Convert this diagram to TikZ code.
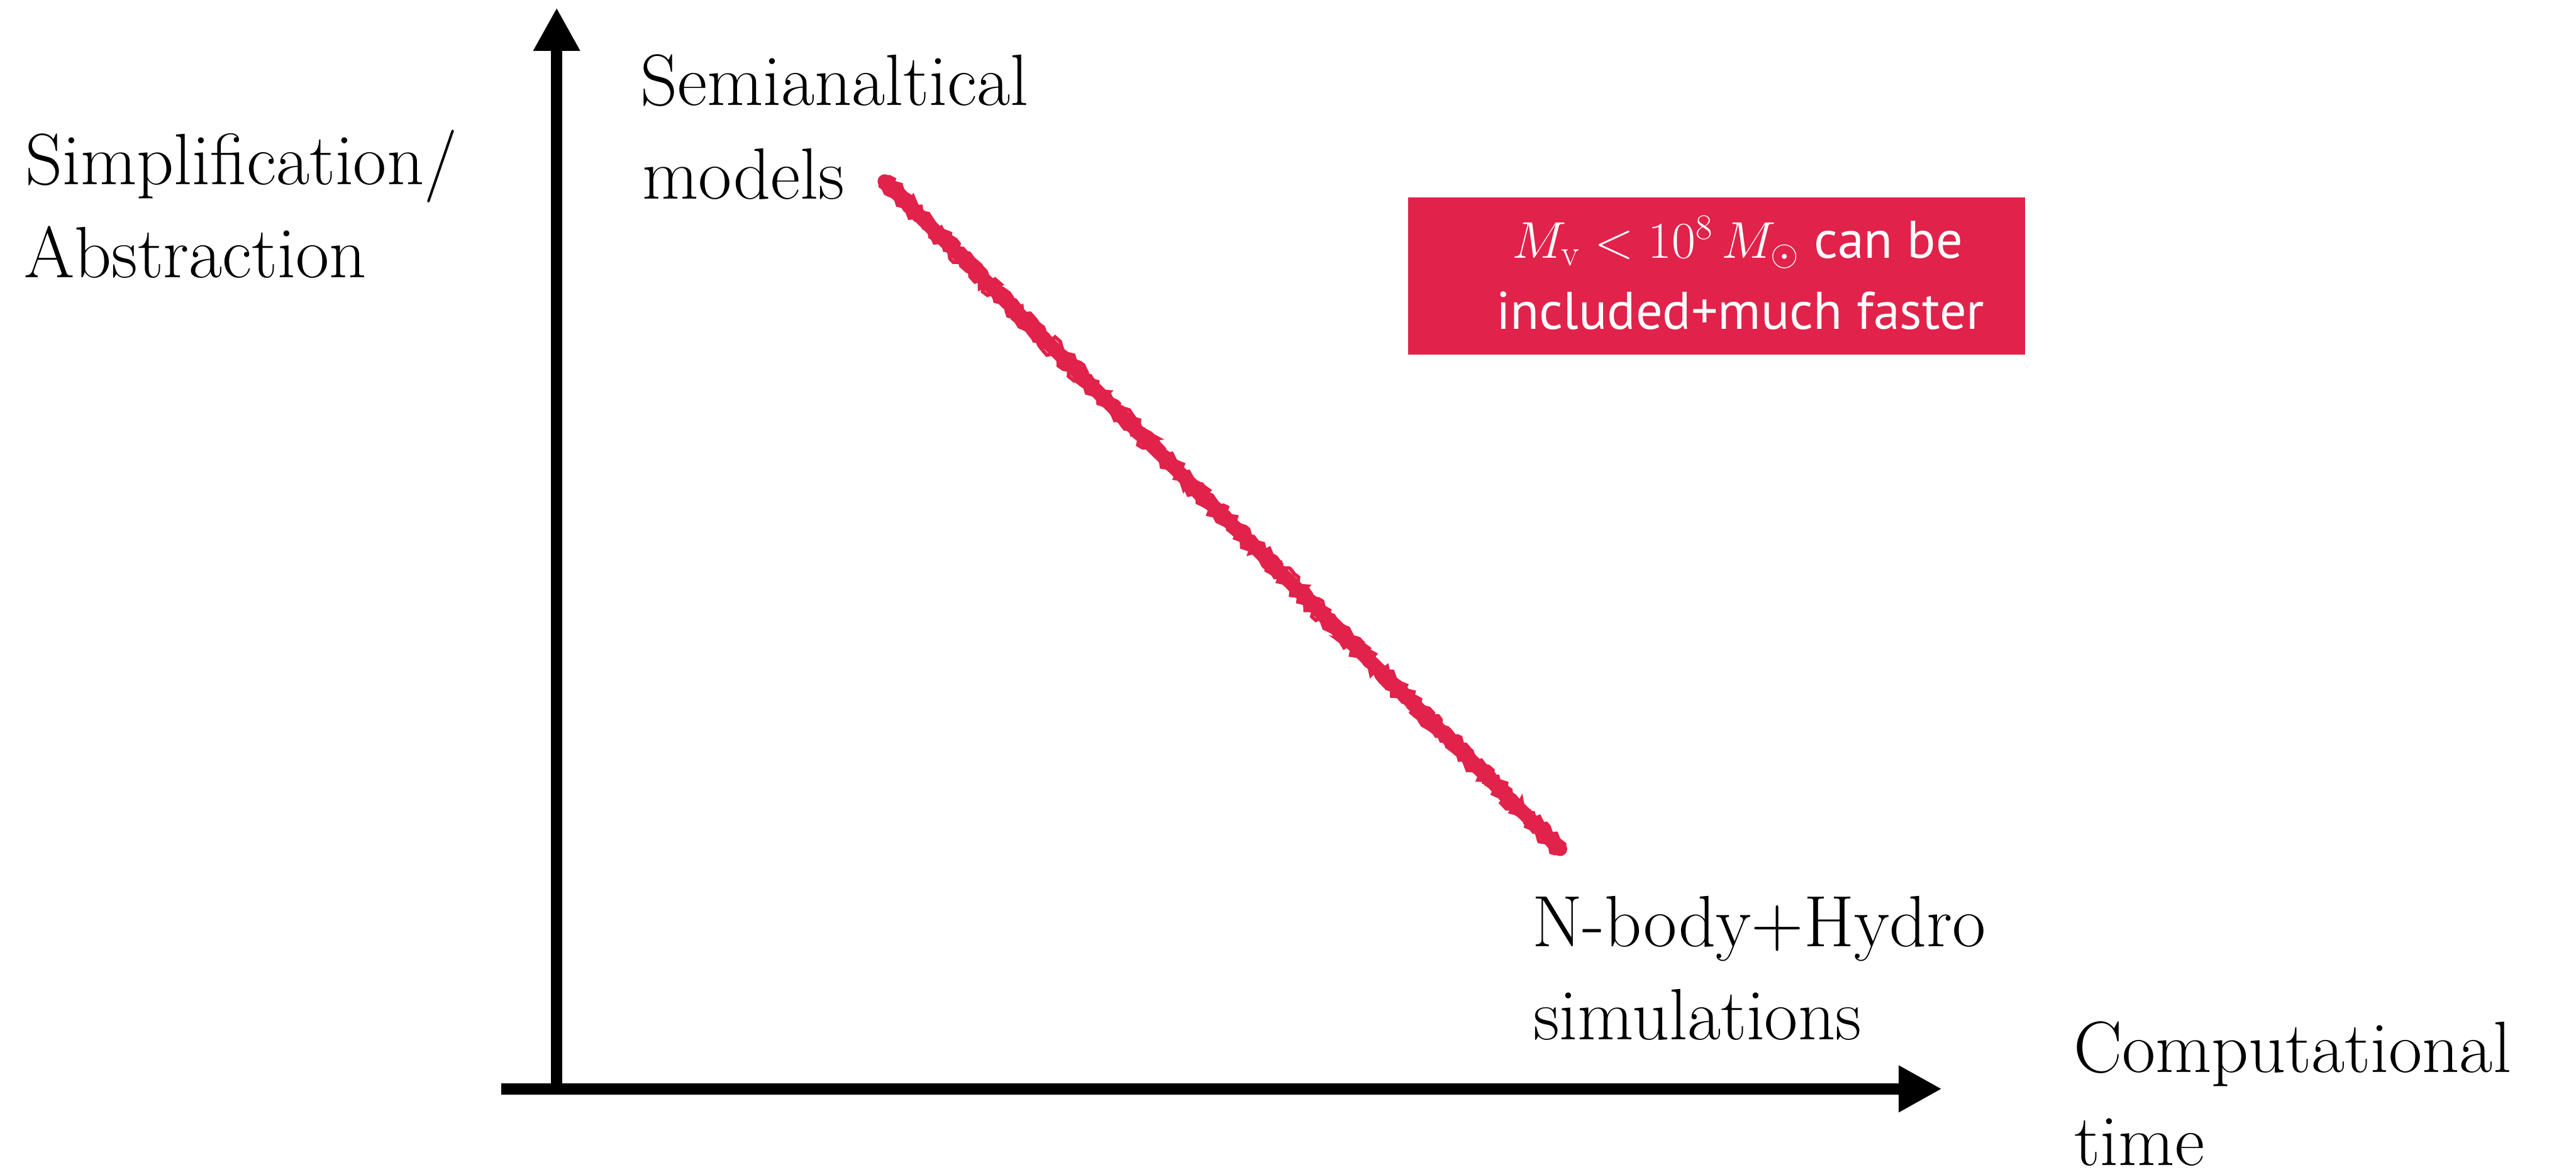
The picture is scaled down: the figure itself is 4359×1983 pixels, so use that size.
\documentclass[tikz,border=0pt]{standalone}
\usepackage{fontspec}
\newfontfamily\boxsans{PT Sans}
\usetikzlibrary{arrows.meta,decorations.pathmorphing}
\definecolor{redc}{RGB}{225,34,74}
\begin{document}
\begin{tikzpicture}[x=0.01cm,y=-0.01cm,
  axis/.style={line width=0.185cm, line cap=butt, -{Triangle[length=0.73cm,width=0.74cm]}},
  lbl/.style={anchor=base west, inner sep=0pt, font=\fontsize{35}{45}\selectfont},
  boxtxt/.style={anchor=base, inner sep=0pt, text=white, font=\boxsans\fontsize{25.5}{30}\selectfont},
  chalk/.style={redc, line width=0.06cm, line cap=round, decorate, decoration={random steps, segment length=0.07cm, amplitude=0.05cm}}]
\pgfmathsetseed{7}
\useasboundingbox (0,0) rectangle (4359,1983);
% box
\node[fill=redc, minimum width=10.43cm, minimum height=2.66cm, inner sep=0pt, anchor=north west] (box) at (2382,333) {};
\node[boxtxt] (b1) at (2940,437) {$M_{\mathrm{v}} < 10^8\,M_\odot$ can be};
\node[boxtxt] (b2) at (2945,557) {included+much faster};
% axes
\coordinate (yo) at (942,1852);
\coordinate (ytip) at (942,13);
\coordinate (xo) at (848,1843);
\coordinate (xtip) at (3286,1843);
\draw[axis] (yo) -- (ytip);
\draw[axis] (xo) -- (xtip);
% red chalk line
\coordinate (rs) at (1497,307);
\coordinate (re) at (2640,1437);
\draw[redc, line width=0.24cm, line cap=round] (rs) -- (re);
\draw[chalk] ([shift={(-8,8)}]rs) -- ([shift={(-8,8)}]re);
\draw[chalk] ([shift={(8,-8)}]rs) -- ([shift={(8,-8)}]re);
\draw[chalk] ([shift={(-4,4)}]rs) -- ([shift={(-4,4)}]re);
\draw[chalk] ([shift={(4,-4)}]rs) -- ([shift={(4,-4)}]re);
% labels
\node[lbl] (s1) at (42,312) {Simplification/};
\node[lbl] (s2) at (40,470) {Abstraction};
\node[lbl] (m1) at (1083,178) {Semianaltical};
\node[lbl] (m2) at (1086,337) {models};
\node[lbl] (n1) at (2592,1602) {N-body+Hydro};
\node[lbl] (n2) at (2594,1760) {simulations};
\node[lbl] (c1) at (3508,1815) {Computational};
\node[lbl] (c2) at (3510,1973) {time};
\end{tikzpicture}
\end{document}
